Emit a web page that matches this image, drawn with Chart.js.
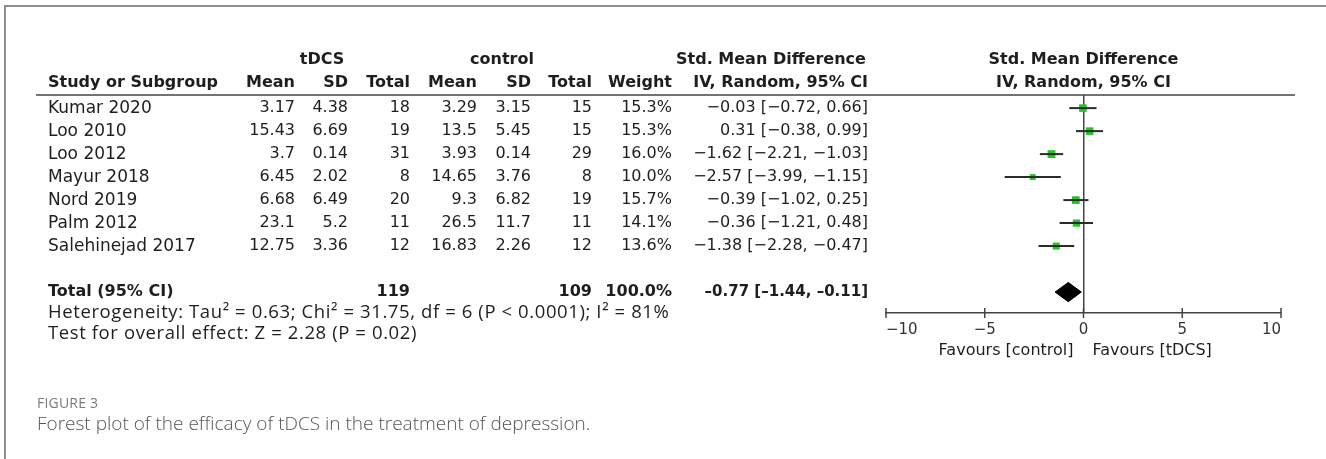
<!DOCTYPE html>
<html>
<head>
<meta charset="utf-8">
<script src="https://cdn.jsdelivr.net/npm/chart.js@4"></script>
<style>
body{margin:0;background:#fff;}
#wrap{position:relative;width:1326px;height:459px;overflow:hidden;}
#frame{position:absolute;left:4px;top:5px;width:1330px;height:460px;border-top:2px solid #8e8e8e;border-left:2px solid #8e8e8e;}
canvas{position:absolute;left:0;top:0;}
.fig{position:absolute;left:37px;top:393px;font:14px "Open Sans";color:#7a7a7a;letter-spacing:0.2px;}
.cap{position:absolute;left:37px;top:410px;font:300 19px "Open Sans";color:#555;}
</style>
</head>
<body>
<div id="wrap">
  <div id="frame"></div>
  <canvas id="forest" width="1326" height="459"></canvas>
  <div class="fig">FIGURE 3</div>
  <div class="cap">Forest plot of the efficacy of tDCS in the treatment of depression.</div>
</div>
<script>
var studies = ['Kumar 2020', 'Loo 2010', 'Loo 2012', 'Mayur 2018', 'Nord 2019', 'Palm 2012', 'Salehinejad 2017'];
var tdcsMean = [3.17, 15.43, 3.7, 6.45, 6.68, 23.1, 12.75];
var tdcsSD = [4.38, 6.69, 0.14, 2.02, 6.49, 5.2, 3.36];
var tdcsN = [18, 19, 31, 8, 20, 11, 12];
var ctrlMean = [3.29, 13.5, 3.93, 14.65, 9.3, 26.5, 16.83];
var ctrlSD = [3.15, 5.45, 0.14, 3.76, 6.82, 11.7, 2.26];
var ctrlN = [15, 15, 29, 8, 19, 11, 12];
var weights = [15.3, 15.3, 16.0, 10.0, 15.7, 14.1, 13.6];
var smd = [-0.03, 0.31, -1.62, -2.57, -0.39, -0.36, -1.38];
var ciLow = [-0.72, -0.38, -2.21, -3.99, -1.02, -1.21, -2.28];
var ciHigh = [0.66, 0.99, -1.03, -1.15, 0.25, 0.48, -0.47];
var totalN = [119, 109];
var pooled = [-0.77, -1.44, -0.11];   // estimate, low, high
var xTicks = [-10, -5, 0, 5, 10];
var favours = ['Favours [control]', 'Favours [tDCS]'];
var hetText = 'Heterogeneity: Tau\u00b2 = 0.63; Chi\u00b2 = 31.75, df = 6 (P < 0.0001); I\u00b2 = 81%';
var testText = 'Test for overall effect: Z = 2.28 (P = 0.02)';

var totalRow = studies.length + 1;

function fmt(v, dash) {
    return (v < 0 ? (dash || '\u2212') : '') + Math.abs(v).toFixed(2);
}
function ciText(e, l, h, dash) {
    return fmt(e, dash) + ' [' + fmt(l, dash) + ', ' + fmt(h, dash) + ']';
}

var datasets = [];
for (var i = 0; i < studies.length; i++) {
    datasets.push({
        type: 'line',
        data: [{x: ciLow[i], y: i}, {x: ciHigh[i], y: i}],
        borderColor: '#2b2b2b',
        borderWidth: 2,
        pointRadius: 0
    });
}
datasets.push({
    type: 'scatter',
    data: smd.map(function (v, i) { return {x: v, y: i}; }),
    pointStyle: 'rect',
    pointRadius: function (c) { return 2 + weights[c.dataIndex] * 0.22; },
    backgroundColor: '#27c427',
    borderWidth: 0
});
// pooled diamond: upper half, then lower half filled to the upper one
datasets.push({
    type: 'line',
    data: [{x: pooled[1], y: totalRow}, {x: pooled[0], y: totalRow - 0.42}, {x: pooled[2], y: totalRow}],
    borderColor: '#000', borderWidth: 1, pointRadius: 0, tension: 0, fill: false
});
datasets.push({
    type: 'line',
    data: [{x: pooled[1], y: totalRow}, {x: pooled[0], y: totalRow + 0.42}, {x: pooled[2], y: totalRow}],
    borderColor: '#000', borderWidth: 1, pointRadius: 0, tension: 0,
    backgroundColor: '#000', fill: '-1'
});

var nameFont = '17px "DejaVu Sans"';
var tableFont = '16px "DejaVu Sans"';
var boldFont = 'bold 16px "DejaVu Sans"';
var colRight = [295, 348, 410, 477, 531, 592, 672, 868];

var tablePlugin = {
    id: 'table',
    afterDraw: function (chart) {
        var ctx = chart.ctx;
        var ys = chart.scales.y, xs = chart.scales.x;
        var ca = chart.chartArea;
        var zero = xs.getPixelForValue(0);
        ctx.save();
        ctx.fillStyle = '#1e1e1e';
        ctx.textBaseline = 'middle';

        // header line
        ctx.strokeStyle = '#444';
        ctx.lineWidth = 1.5;
        ctx.beginPath();
        ctx.moveTo(36, ca.top);
        ctx.lineTo(1295, ca.top);
        ctx.stroke();

        // ticks crossing the axis
        ctx.beginPath();
        xTicks.forEach(function (t) {
            var px = xs.getPixelForValue(t);
            ctx.moveTo(px, ca.bottom - 5);
            ctx.lineTo(px, ca.bottom + 5);
        });
        ctx.stroke();

        // headers
        ctx.font = boldFont;
        var h1 = ys.getPixelForValue(-2.09), h2 = ys.getPixelForValue(-1.09);
        ctx.textAlign = 'center';
        ctx.fillText('tDCS', 322, h1);
        ctx.fillText('control', 502, h1);
        ctx.fillText('Std. Mean Difference', 771, h1);
        ctx.fillText('Std. Mean Difference', zero, h1);
        ctx.fillText('IV, Random, 95% CI', zero, h2);
        ctx.textAlign = 'left';
        ctx.fillText('Study or Subgroup', 48, h2);
        ctx.textAlign = 'right';
        ['Mean', 'SD', 'Total', 'Mean', 'SD', 'Total', 'Weight', 'IV, Random, 95% CI'].forEach(function (s, k) {
            ctx.fillText(s, colRight[k], h2);
        });

        // study rows
        for (var i = 0; i < studies.length; i++) {
            var py = ys.getPixelForValue(i);
            ctx.font = nameFont;
            ctx.textAlign = 'left';
            ctx.fillText(studies[i], 48, py);
            ctx.font = tableFont;
            ctx.textAlign = 'right';
            var cells = [tdcsMean[i], tdcsSD[i], tdcsN[i], ctrlMean[i], ctrlSD[i], ctrlN[i],
                         weights[i].toFixed(1) + '%', ciText(smd[i], ciLow[i], ciHigh[i])];
            cells.forEach(function (c, k) { ctx.fillText(String(c), colRight[k], py); });
        }

        // total row
        var ty = ys.getPixelForValue(totalRow);
        ctx.font = boldFont;
        ctx.textAlign = 'left';
        ctx.fillText('Total (95% CI)', 48, ty);
        ctx.textAlign = 'right';
        ctx.fillText(String(totalN[0]), colRight[2], ty);
        ctx.fillText(String(totalN[1]), colRight[5], ty);
        ctx.fillText('100.0%', colRight[6], ty);
        ctx.font = 'bold 15px "DejaVu Sans"';
        ctx.fillText(ciText(pooled[0], pooled[1], pooled[2], '\u2013'), colRight[7], ty);

        // footnotes
        ctx.font = '18.5px "Open Sans"';
        ctx.letterSpacing = '0.6px';
        ctx.textAlign = 'left';
        ctx.fillText(hetText, 48, ys.getPixelForValue(totalRow + 0.92));
        ctx.fillText(testText, 48, ys.getPixelForValue(totalRow + 1.8));
        ctx.letterSpacing = '0px';

        // favours labels
        ctx.font = '16px "DejaVu Sans"';
        var fy = ys.getPixelForValue(totalRow + 2.56);
        ctx.textAlign = 'right';
        ctx.fillText(favours[0], zero - 10, fy);
        ctx.textAlign = 'left';
        ctx.fillText(favours[1], zero + 9, fy);
        ctx.restore();
    }
};

new Chart(document.getElementById('forest'), {
    type: 'scatter',
    data: {datasets: datasets},
    options: {
        responsive: false,
        animation: false,
        layout: {padding: {left: 886, right: 45, top: 95, bottom: 116}},
        plugins: {legend: {display: false}, tooltip: {enabled: false}},
        scales: {
            x: {
                type: 'linear',
                min: -10,
                max: 10,
                afterFit: function (s) { s.height = 30; },
                afterBuildTicks: function (s) { s.ticks = xTicks.map(function (v) { return {value: v}; }); },
                ticks: {
                    align: 'inner',
                    padding: 8,
                    color: '#333',
                    font: {family: 'DejaVu Sans', size: 15},
                    callback: function (v) { return v < 0 ? '\u2212' + Math.abs(v) : String(v); }
                },
                grid: {
                    drawTicks: false,
                    lineWidth: 1.5,
                    color: function (c) { return c.tick && c.tick.value === 0 ? '#444' : 'rgba(0,0,0,0)'; }
                },
                border: {color: '#444', width: 1.5}
            },
            y: {
                type: 'linear',
                display: false,
                reverse: true,
                min: -0.57,
                max: 8.91
            }
        }
    },
    plugins: [tablePlugin]
});
</script>
</body>
</html>
